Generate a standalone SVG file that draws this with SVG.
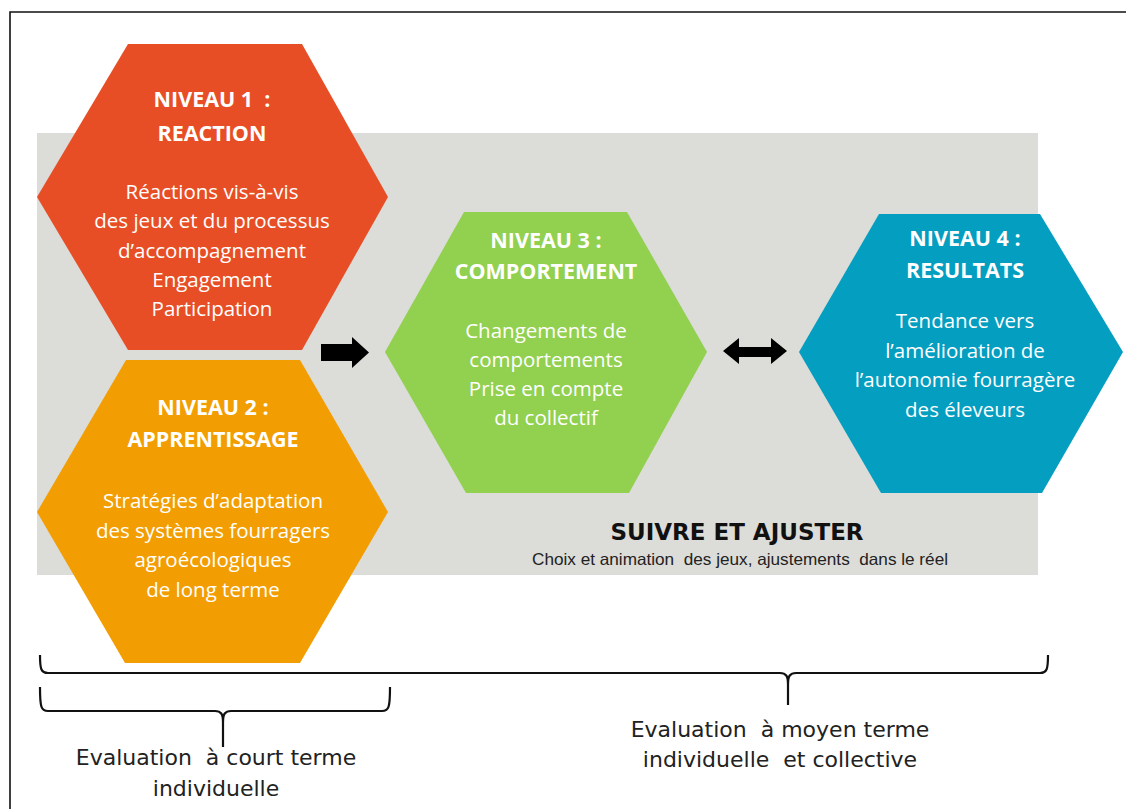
<svg xmlns="http://www.w3.org/2000/svg" width="1126" height="809" viewBox="0 0 1126 809">
<style>
.hx-title{font-family:"Open Sans","Liberation Sans",sans-serif;font-weight:bold;font-size:21.5px;fill:#fff;text-anchor:middle}
.hx-body{font-family:"Open Sans","Liberation Sans",sans-serif;font-size:20.5px;fill:#fff;text-anchor:middle}
.eval{font-family:"DejaVu Sans",sans-serif;font-size:22px;fill:#222;text-anchor:middle}
.arrow{fill:#000}
.brace{fill:none;stroke:#111;stroke-width:2.2;stroke-linejoin:round}
</style>
<rect x="0" y="0" width="1126" height="809" fill="#fff"/>
<path d="M10,809 L10,12 L1126,12" fill="none" stroke="#111" stroke-width="1.6"/>
<rect id="band" x="37" y="133" width="1001" height="442" fill="#DCDCD8"/>

<g id="n1">
<polygon points="128,44 302,44 388,197 302,350 128,350 37,197" fill="#E84E25"/>
<text class="hx-title" x="212" y="107" xml:space="preserve">NIVEAU 1  :</text>
<text class="hx-title" x="212" y="141">REACTION</text>
<text class="hx-body" x="212" y="199">Réactions vis-à-vis</text>
<text class="hx-body" x="212" y="228">des jeux et du processus</text>
<text class="hx-body" x="212" y="258">d’accompagnement</text>
<text class="hx-body" x="212" y="287">Engagement</text>
<text class="hx-body" x="212" y="316">Participation</text>
</g>

<g id="n2">
<polygon points="126,360 300,360 388,512 300,663 125,663 37,512" fill="#F29E02"/>
<text class="hx-title" x="213" y="415">NIVEAU 2 :</text>
<text class="hx-title" x="213" y="447">APPRENTISSAGE</text>
<text class="hx-body" x="213" y="508">Stratégies d’adaptation</text>
<text class="hx-body" x="213" y="538">des systèmes fourragers</text>
<text class="hx-body" x="213" y="567">agroécologiques</text>
<text class="hx-body" x="213" y="597">de long terme</text>
</g>

<g id="n3">
<polygon points="464,212 627,212 707,352 629,493 466,493 385,352" fill="#92D050"/>
<text class="hx-title" x="546" y="248">NIVEAU 3 :</text>
<text class="hx-title" x="546" y="279">COMPORTEMENT</text>
<text class="hx-body" x="546" y="338">Changements de</text>
<text class="hx-body" x="546" y="367">comportements</text>
<text class="hx-body" x="546" y="396">Prise en compte</text>
<text class="hx-body" x="546" y="425">du collectif</text>
</g>

<g id="n4">
<polygon points="879,214 1040,214 1123,352 1042,493 881,493 799,352" fill="#049EC1"/>
<text class="hx-title" x="965" y="246">NIVEAU 4 :</text>
<text class="hx-title" x="965" y="278">RESULTATS</text>
<text class="hx-body" x="965" y="328">Tendance vers</text>
<text class="hx-body" x="965" y="358">l’amélioration de</text>
<text class="hx-body" x="965" y="387" xml:space="preserve">l’autonomie fourragère</text>
<text class="hx-body" x="965" y="417">des éleveurs</text>
</g>

<g id="suivre">
<text x="737" y="540" font-family="DejaVu Sans, sans-serif" font-weight="bold" font-size="23" fill="#111" text-anchor="middle">SUIVRE ET AJUSTER</text>
<text x="532" y="565" font-family="Liberation Sans, Arial, sans-serif" font-size="16.5" fill="#222" textLength="416" lengthAdjust="spacingAndGlyphs" xml:space="preserve">Choix et animation  des jeux, ajustements  dans le réel</text>
</g>

<g id="connectors">
<polygon class="arrow" points="321,344 352,344 352,337 369,352.5 352,368 352,361 321,361"/>
<polygon class="arrow" points="723,351 739,338 739,347 771,347 771,338 787,351 771,364 771,357 739,357 739,364"/>
</g>

<g id="brace-long">
<path class="brace" d="M40,655 C40,669 41,673 48,673 L780,673 C786,673 788,676 788,684 L788,705 M788,684 C788,676 790,673 796,673 L1040,673 C1047,673 1048,669 1048,655"/>
<text class="eval" x="780" y="737" xml:space="preserve">Evaluation  à moyen terme</text>
<text class="eval" x="780" y="767" xml:space="preserve">individuelle  et collective</text>
</g>

<g id="brace-short">
<path class="brace" d="M40,687 C40,707 41,711 48,711 L215,711 C221,711 223,714 223,722 L223,747 M223,722 C223,714 225,711 231,711 L382,711 C389,711 390,707 390,687"/>
<text class="eval" x="216" y="765" xml:space="preserve">Evaluation  à court terme</text>
<text class="eval" x="216" y="796">individuelle</text>
</g>
</svg>
